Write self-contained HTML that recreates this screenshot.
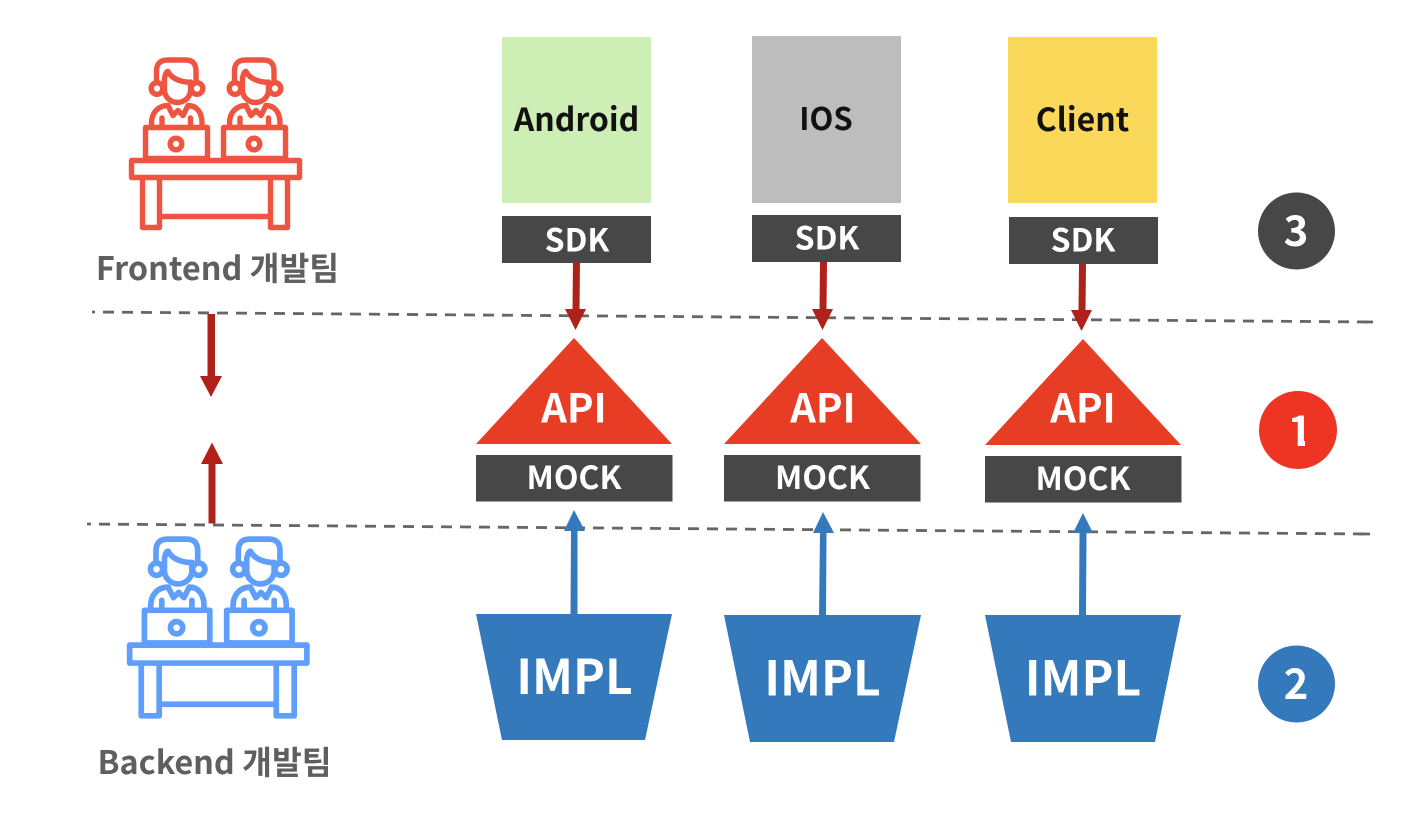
<!DOCTYPE html>
<html><head><meta charset="utf-8">
<style>
html,body{margin:0;padding:0;background:#fff;width:1428px;height:834px;overflow:hidden}
svg{display:block}
text{font-family:"Noto Sans CJK KR","Liberation Sans",sans-serif;text-anchor:middle}
.w{fill:#fff;font-weight:700}
.k{fill:#111;font-weight:700;font-size:32px}
.g{fill:#5f5f5f;font-weight:700;font-size:32.400px}
</style></head><body>
<svg width="1428" height="834" viewBox="0 0 1428 834" xmlns="http://www.w3.org/2000/svg">
<defs>
<g id="person" fill="none" stroke-width="5.400" stroke-linejoin="round" stroke-linecap="round">
  <path d="M156.500 80V71Q156.500 60 167.500 60H185.500Q196 60 196 71V80"/>
  <path d="M164.500 88V79Q165.500 71.500 168 71.500Q173 81.500 191 82.500"/>
  <path d="M190.500 82V90A13 12.500 0 0 1 164.500 90"/>
  <circle cx="157" cy="88.500" r="5.800"/>
  <circle cx="197" cy="88.500" r="5.800"/>
  <path d="M151.500 125V123C151.500 113 158 105.500 168 105.500L173 115.500L178 110.500L183 115.500L188 105.500C197 105.500 202 113 202 123V125"/>
  <path d="M162 118V125M190.500 118V125"/>
  <rect x="145.500" y="127.500" width="62" height="31"/>
  <circle cx="176" cy="144" r="5.800"/>
</g>
<g id="team" fill="none" stroke-width="5.400" stroke-linejoin="round">
  <use href="#person"/>
  <use href="#person" x="78"/>
  <rect x="131.500" y="160.500" width="168" height="17"/>
  <path d="M142.500 178V227.500H159.500V178M270.500 178V227.500H287.500V178M160 216.500H270"/>
</g>
</defs>

<use href="#team" stroke="#ef5440"/>
<use href="#team" stroke="#5f9ffb" transform="translate(127 537) scale(1.055) translate(-129 -58)"/>
<text class="g" x="217.500" y="280">Frontend 개발팀</text>
<text class="g" x="214.500" y="774">Backend 개발팀</text>

<path d="M92 312L1373 322" stroke="#666" stroke-width="2.800" stroke-dasharray="11 8" stroke-dashoffset="8" fill="none"/>
<path d="M87 524L1370 534" stroke="#666" stroke-width="2.800" stroke-dasharray="11 8" stroke-dashoffset="7" fill="none"/>
<path d="M1362 321.900L1373 322M1359 533.900L1370 534" stroke="#666" stroke-width="2.800" fill="none"/>

<rect x="502" y="37" width="149" height="166" fill="#cdeeb5"/>
<rect x="752" y="36" width="149" height="167" fill="#bdbdbd"/>
<rect x="1008" y="37" width="149" height="166" fill="#fad85a"/>
<text class="k" x="576.500" y="131">Android</text>
<text class="k" x="826" y="130" style="font-size:31px">IOS</text>
<text class="k" x="1082.500" y="131">Client</text>

<rect x="502" y="216" width="149" height="47" fill="#474747"/>
<rect x="752" y="215" width="149" height="47" fill="#474747"/>
<rect x="1009" y="217" width="149" height="47" fill="#474747"/>
<text class="w" font-size="32" x="577" y="251.500">SDK</text>
<text class="w" font-size="32" x="827" y="249.500">SDK</text>
<text class="w" font-size="32" x="1083" y="251.500">SDK</text>

<g fill="#b0211a" stroke="none">
  <path d="M573 262H580L579.500 309H586L575.500 330L565 309H572.500Z"/>
  <path d="M820 262H827L826.500 309H833L822.500 330L812 309H819.500Z"/>
  <path d="M1079 264H1086L1085.500 310H1092L1081.500 331L1071 310H1078.500Z"/>
  <path d="M207.500 314H215V376H222L211 397L200 376H207.500Z"/>
  <path d="M208.500 523.500V464H201L212 442.500L223 464H215.500V523.500Z"/>
</g>

<g fill="#e83d25">
  <polygon points="574,338 476,444 672,444"/>
  <polygon points="822,338 724,444 921,444"/>
  <polygon points="1083,339 985,445 1181,445"/>
</g>
<text class="w" font-size="40" x="574" y="422.500">API</text>
<text class="w" font-size="40" x="823" y="422.500">API</text>
<text class="w" font-size="40" x="1083" y="422.500">API</text>

<rect x="476" y="455" width="196.500" height="46.500" fill="#474747"/>
<rect x="724" y="455" width="196.500" height="46.500" fill="#474747"/>
<rect x="985" y="456" width="196.500" height="46.500" fill="#474747"/>
<text class="w" font-size="32" x="574" y="489">MOCK</text>
<text class="w" font-size="32" x="822.500" y="489">MOCK</text>
<text class="w" font-size="32" x="1083" y="490">MOCK</text>

<g fill="#3379bb">
  <polygon points="476,614 672,614 645,740 502,740"/>
  <polygon points="724,615 921,615 894,742 750,742"/>
  <polygon points="985,615 1181,615 1155,742 1011,742"/>
  <path d="M570.500 614L571 531H564L574 510L585 531H577.500L577.500 614Z"/>
  <path d="M819 616L820 533H813L823 512L834 533H826.500L826 616Z"/>
  <path d="M1079 616L1079.500 533H1073L1083 513L1093 533H1086.500L1086 616Z"/>
</g>
<text class="w" font-size="48" x="574.500" y="694">IMPL</text>
<text class="w" font-size="48" x="822.500" y="695.500">IMPL</text>
<text class="w" font-size="48" x="1083" y="695.500">IMPL</text>

<circle cx="1296.500" cy="231" r="38.500" fill="#474747"/>
<circle cx="1298" cy="430" r="39" fill="#ee3524"/>
<circle cx="1296.500" cy="684" r="38.500" fill="#3379bb"/>
<text class="w" font-size="42" x="1296" y="246">3</text>
<text class="w" font-size="42" x="1300" y="446">1</text>
<rect x="1284" y="438.500" width="13.700" height="9" fill="#ee3524"/>
<rect x="1305" y="438.500" width="11" height="9" fill="#ee3524"/>
<text class="w" font-size="42" x="1296" y="699">2</text>
</svg>
</body></html>
